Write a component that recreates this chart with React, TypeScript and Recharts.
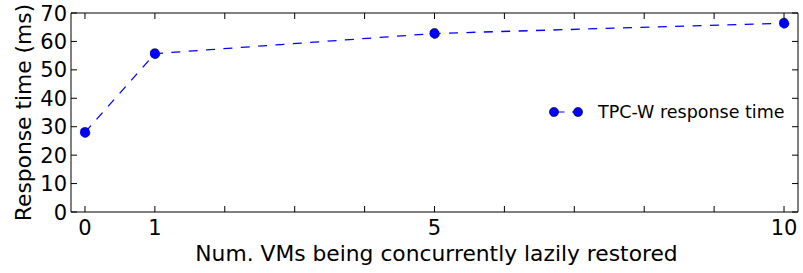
import React from 'react';
import { LineChart, Line, XAxis, YAxis } from 'recharts';

const vmCounts = [0, 1, 5, 10];
const responseTimes = [28, 55.7, 62.8, 66.4];
const xTicks = [0, 1, 2, 3, 4, 5, 6, 7, 8, 9, 10];
const xLabeledTicks = [0, 1, 5, 10];
const yTicks = [0, 10, 20, 30, 40, 50, 60, 70];
const seriesName = 'TPC-W response time';
const xTitle = 'Num. VMs being concurrently lazily restored';
const yTitle = 'Response time (ms)';

const data = vmCounts.map((x, i) => ({ x, y: responseTimes[i] }));

const FONT = "'DejaVu Sans', sans-serif";
const TICK = 6;
const BLUE = '#0000ff';
const DASH = '9 8.4';
const TICK_FONT = 21;

const BottomTick = (p: any) => {
  const { x, y, payload } = p;
  return (
    <g>
      <line x1={x} x2={x} y1={y} y2={y - TICK} stroke="#000" strokeWidth={1} />
      {xLabeledTicks.includes(payload.value) && (
        <text x={x} y={y + 23} textAnchor="middle" fontSize={TICK_FONT} fontFamily={FONT} fill="#000">
          {payload.value}
        </text>
      )}
    </g>
  );
};

const TopTick = (p: any) => {
  const { x, y } = p;
  return <line x1={x} x2={x} y1={y} y2={y + TICK} stroke="#000" strokeWidth={1} />;
};

const LeftTick = (p: any) => {
  const { x, y, payload } = p;
  return (
    <g>
      <line x1={x} x2={x + TICK} y1={y} y2={y} stroke="#000" strokeWidth={1} />
      <text x={x - 4} y={y + 7.5} textAnchor="end" fontSize={TICK_FONT} fontFamily={FONT} fill="#000">
        {payload.value}
      </text>
    </g>
  );
};

const RightTick = (p: any) => {
  const { x, y } = p;
  return <line x1={x} x2={x - TICK} y1={y} y2={y} stroke="#000" strokeWidth={1} />;
};

const XTitle = (props: any) => {
  const vb = props.viewBox || {};
  return (
    <text x={vb.x + vb.width / 2 + 2} y={vb.y + 49} textAnchor="middle" fontSize={21.8} fontFamily={FONT} fill="#000">
      {xTitle}
    </text>
  );
};

const YTitle = (props: any) => {
  const vb = props.viewBox || {};
  const cx = 31;
  const cy = vb.y + vb.height / 2;
  return (
    <text x={cx} y={cy} transform={`rotate(-90, ${cx}, ${cy})`} textAnchor="middle" fontSize={21.8} fontFamily={FONT} fill="#000">
      {yTitle}
    </text>
  );
};

const LegendLabel = () => {
  const lx = 554;
  const ly = 112;
  return (
    <g>
      <line x1={lx} x2={lx + 24} y1={ly} y2={ly} stroke={BLUE} strokeWidth={1.2} strokeDasharray="8.5 7.5" strokeDashoffset={-2} />
      <circle cx={lx} cy={ly} r={4.6} fill={BLUE} stroke="#000" strokeWidth={0.6} />
      <circle cx={lx + 24} cy={ly} r={4.6} fill={BLUE} stroke="#000" strokeWidth={0.6} />
      <text x={lx + 44} y={ly + 6} fontSize={17.5} fontFamily={FONT} fill="#000">
        {seriesName}
      </text>
    </g>
  );
};

export default function App() {
  return (
    <div style={{ position: 'absolute', left: 0, top: 0, width: 803, height: 273, background: '#fff' }}>
      <LineChart
        width={803}
        height={273}
        data={data}
        margin={{ top: 12, right: 4, bottom: 60, left: 70 }}
      >
        <XAxis
          dataKey="x"
          type="number"
          domain={[-0.2, 10.2]}
          ticks={xTicks}
          interval={0}
          allowDataOverflow
          height={1}
          tickSize={0}
          tickMargin={0}
          tickLine={false}
          tick={<BottomTick />}
          stroke="#000"
          label={{ content: <XTitle /> }}
        />
        <XAxis
          xAxisId="top"
          orientation="top"
          type="number"
          dataKey="x"
          domain={[-0.2, 10.2]}
          ticks={xTicks}
          interval={0}
          allowDataOverflow
          height={1}
          tickSize={0}
          tickMargin={0}
          tickLine={false}
          tick={<TopTick />}
          stroke="#000"
          label={{ content: <LegendLabel /> }}
        />
        <YAxis
          type="number"
          domain={[0, 70]}
          ticks={yTicks}
          interval={0}
          allowDataOverflow
          width={1}
          tickSize={0}
          tickMargin={0}
          tickLine={false}
          tick={<LeftTick />}
          stroke="#000"
          label={{ content: <YTitle /> }}
        />
        <YAxis
          yAxisId="right"
          orientation="right"
          type="number"
          domain={[0, 70]}
          ticks={yTicks}
          interval={0}
          allowDataOverflow
          width={1}
          tickSize={0}
          tickMargin={0}
          tickLine={false}
          tick={<RightTick />}
          stroke="#000"
        />
        <Line
          dataKey="y"
          name={seriesName}
          stroke={BLUE}
          strokeWidth={1.3}
          strokeDasharray={DASH}
          dot={{ r: 5, fill: BLUE, stroke: '#000', strokeWidth: 0.6 }}
          activeDot={false}
          isAnimationActive={false}
        />
      </LineChart>
    </div>
  );
}
